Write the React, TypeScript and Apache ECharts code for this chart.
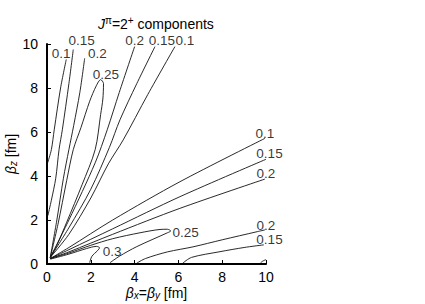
import React, { useEffect, useRef } from "react";
import * as echarts from "echarts";

// Axis ticks
const xTicks = [0, 2, 4, 6, 8, 10];
const yTicks = [0, 2, 4, 6, 8, 10];

// Upper fan of contours (near the beta_z axis)
const c010UpOuter = [[0.03, 4.6], [0.2, 5.2], [0.33, 6.1], [0.62, 8.0], [0.88, 9.3]];
const c015UpOuter = [[0.04, 2.2], [0.2, 2.9], [0.4, 3.9], [0.55, 5.2], [0.7, 6.1], [1.0, 8.2], [1.2, 9.75]];
const c020UpOuter = [[0.15, 0.3], [0.45, 2.0], [0.75, 3.9], [1.0, 5.2], [1.22, 6.3], [1.5, 7.8], [1.72, 9.35]];
const c025UpLoop = [
  [0.15, 0.3], [0.5, 1.8], [0.9, 3.8], [1.2, 5.2], [1.55, 6.2], [1.95, 7.4], [2.25, 8.1], [2.45, 8.38],
  [2.58, 8.2], [2.55, 7.5], [2.45, 6.8], [2.2, 5.2], [1.6, 3.6], [0.9, 1.9], [0.45, 0.85], [0.15, 0.3],
];
const c020UpInner = [[0.15, 0.3], [1.0, 2.0], [2.2, 4.6], [2.75, 6.1], [3.3, 7.8], [4.0, 9.88]];
const c015UpInner = [[0.15, 0.3], [1.0, 1.65], [2.0, 3.4], [2.85, 5.3], [3.33, 6.55], [4.1, 8.2], [4.93, 9.88]];
const c010UpInner = [[0.15, 0.3], [1.0, 1.35], [2.0, 3.0], [2.8, 4.55], [3.48, 5.64], [4.6, 7.7], [5.84, 9.88]];

// Lower fan of contours (near the beta_x = beta_y axis)
const c010Low = [[0.15, 0.25], [1.0, 0.75], [3.0, 2.0], [6.07, 3.74], [9.95, 5.71]];
const c015Low = [[0.15, 0.25], [1.0, 0.65], [3.0, 1.6], [6.07, 3.06], [10.0, 4.76]];
const c020Low = [[0.15, 0.25], [1.0, 0.55], [3.0, 1.35], [6.07, 2.53], [9.95, 3.86]];
const c025LowLoop = [
  [0.15, 0.25], [1.0, 0.5], [2.0, 0.85], [3.0, 1.15], [4.25, 1.42], [5.16, 1.57], [5.5, 1.58], [5.65, 1.5],
  [5.5, 1.42], [4.1, 0.79], [3.3, 0.35], [2.88, 0.06],
];
const c030LowLoop = [[0.15, 0.22], [1.0, 0.45], [1.8, 0.7], [2.25, 0.8], [2.4, 0.74], [2.3, 0.6], [2.05, 0.35], [1.95, 0.06]];
const c020Bottom = [[4.1, 0.04], [4.5, 0.25], [5.5, 0.55], [6.67, 0.78], [8.0, 1.1], [9.6, 1.47], [9.95, 1.55]];
const c015Bottom = [[6.2, 0.04], [6.6, 0.3], [7.9, 0.56], [9.0, 0.75], [9.9, 0.87]];
const c010Corner = [[9.75, 0.05], [9.85, 0.13], [10.0, 0.2]];

const contourLines = [
  c010UpOuter, c015UpOuter, c020UpOuter, c025UpLoop, c020UpInner, c015UpInner, c010UpInner,
  c010Low, c015Low, c020Low, c025LowLoop, c030LowLoop, c020Bottom, c015Bottom, c010Corner,
];

// Contour labels: x, y, text
const contourLabels: [number, number, string][] = [
  [0.64, 9.57, "0.1"], [1.58, 10.16, "0.15"], [2.3, 9.55, "0.2"], [2.69, 8.6, "0.25"],
  [4.0, 10.14, "0.2"], [5.25, 10.14, "0.15"], [6.3, 10.14, "0.1"],
  [9.95, 5.95, "0.1"], [10.16, 5.02, "0.15"], [10.0, 4.11, "0.2"],
  [10.0, 1.77, "0.2"], [10.16, 1.11, "0.15"],
  [6.33, 1.43, "0.25"], [2.97, 0.59, "0.3"],
];

const FONT = "Liberation Sans";

export default function App() {
  const ref = useRef<HTMLDivElement>(null);
  useEffect(() => {
    if (!ref.current) return;
    const chart = echarts.init(ref.current, null, { renderer: "svg" });
    const lineSeries = contourLines.map((d) => ({
      type: "line",
      data: d,
      showSymbol: false,
      smooth: 0.3,
      lineStyle: { color: "#111", width: 0.9 },
      silent: true,
      z: 2,
    }));
    const nameRich = {
      b: { fontFamily: FONT, fontStyle: "italic", fontSize: 14, color: "#000", lineHeight: 15 },
      n: { fontFamily: FONT, fontSize: 14, color: "#000", lineHeight: 15 },
      s: { fontFamily: FONT, fontStyle: "italic", fontSize: 10, color: "#000", lineHeight: 8, verticalAlign: "bottom" },
    };
    chart.setOption({
      animation: false,
      textStyle: { fontFamily: FONT },
      title: {
        text: "{i|J}{sup|π}{n|=2}{sup|+}{n| components}",
        left: 93,
        top: 10,
        textStyle: {
          fontWeight: "normal",
          rich: {
            i: { fontFamily: FONT, fontStyle: "italic", fontWeight: "normal", fontSize: 14, color: "#000", lineHeight: 18 },
            n: { fontFamily: FONT, fontWeight: "normal", fontSize: 14, color: "#000", lineHeight: 18 },
            sup: { fontFamily: FONT, fontWeight: "normal", fontSize: 10, color: "#000", lineHeight: 10, verticalAlign: "top" },
          },
        },
      },
      grid: { left: 47, top: 44, width: 219, height: 220, outerBoundsMode: "none", containLabel: false },
      xAxis: {
        type: "value",
        min: xTicks[0],
        max: xTicks[xTicks.length - 1],
        interval: 2,
        name: "{b|β}{s|x}{n|=}{b|β}{s|y}{n| [fm]}",
        nameLocation: "middle",
        nameGap: 21,
        nameMoveOverlap: false,
        nameTextStyle: { rich: nameRich },
        axisLine: { show: true, onZero: false, lineStyle: { color: "#000", width: 2 } },
        axisTick: { show: true, inside: true, length: 4, lineStyle: { color: "#000", width: 1 } },
        axisLabel: { color: "#000", fontSize: 14, lineHeight: 13, fontFamily: FONT, margin: 6 },
        splitLine: { show: false },
      },
      yAxis: {
        type: "value",
        min: yTicks[0],
        max: yTicks[yTicks.length - 1],
        interval: 2,
        name: "{b|β}{s|z}{n| [fm]}",
        nameLocation: "middle",
        nameGap: 29,
        nameMoveOverlap: false,
        nameTextStyle: { rich: nameRich },
        axisLine: { show: true, onZero: false, lineStyle: { color: "#000", width: 2 } },
        axisTick: { show: true, inside: true, length: 4, lineStyle: { color: "#000", width: 1 } },
        axisLabel: { color: "#000", fontSize: 14, fontFamily: FONT, margin: 9 },
        splitLine: { show: false },
      },
      series: [
        ...lineSeries,
        {
          type: "scatter",
          data: contourLabels.map((l) => ({ value: [l[0], l[1]], name: l[2] })),
          symbolSize: 0,
          clip: false,
          silent: true,
          z: 5,
          label: {
            show: true,
            position: "inside",
            formatter: (p: any) => p.name,
            color: "#000",
            fontSize: 13.5,
            lineHeight: 11,
            fontFamily: FONT,
          },
        },
      ],
    });
    return () => chart.dispose();
  }, []);
  return (
    <div
      ref={ref}
      style={{ position: "fixed", left: 0, top: 0, width: 425, height: 304, background: "#fff" }}
    />
  );
}
